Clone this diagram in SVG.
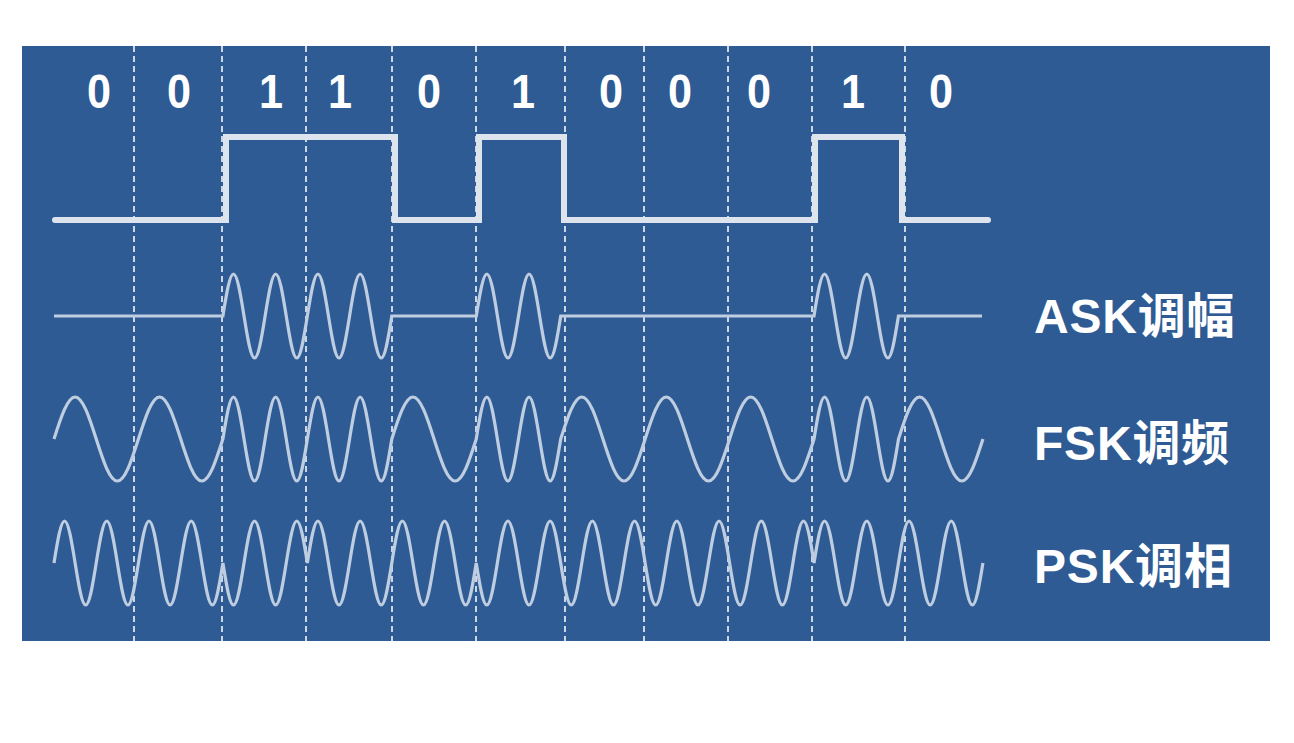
<svg xmlns="http://www.w3.org/2000/svg" width="1294" height="743" viewBox="0 0 1294 743">
<style>
.grid line{stroke:#ffffff;stroke-width:1.5;stroke-dasharray:6,4}
.bit{font-family:"Liberation Sans",Arial,sans-serif;font-weight:bold;font-size:48px;fill:#ffffff;text-anchor:middle}
.lbl{font-family:"Liberation Sans","Noto Sans CJK SC",sans-serif;font-weight:bold;font-size:48px;letter-spacing:0.8px;fill:#ffffff}
.wave{fill:none;stroke:#bfcde1;stroke-width:3.2;stroke-linejoin:miter}
.digital{fill:none;stroke:#dde4ee;stroke-width:6;stroke-linecap:round;stroke-linejoin:miter}
</style>
<rect x="0" y="0" width="1294" height="743" fill="#ffffff"/>
<rect id="panel" x="22" y="46" width="1248" height="595" fill="#2e5b94"/>
<g id="grid" class="grid">
<line x1="134" y1="46" x2="134" y2="641"/>
<line x1="222" y1="46" x2="222" y2="641"/>
<line x1="306" y1="46" x2="306" y2="641"/>
<line x1="392" y1="46" x2="392" y2="641"/>
<line x1="476" y1="46" x2="476" y2="641"/>
<line x1="565" y1="46" x2="565" y2="641"/>
<line x1="644" y1="46" x2="644" y2="641"/>
<line x1="728" y1="46" x2="728" y2="641"/>
<line x1="812" y1="46" x2="812" y2="641"/>
<line x1="905" y1="46" x2="905" y2="641"/>
</g>
<g id="bits">
<text class="bit" x="99" y="108" transform="translate(99 0) scale(0.9 1) translate(-99 0)">0</text>
<text class="bit" x="179" y="108" transform="translate(179 0) scale(0.9 1) translate(-179 0)">0</text>
<text class="bit" x="271" y="108" transform="translate(271 0) scale(0.9 1) translate(-271 0)">1</text>
<text class="bit" x="340" y="108" transform="translate(340 0) scale(0.9 1) translate(-340 0)">1</text>
<text class="bit" x="429" y="108" transform="translate(429 0) scale(0.9 1) translate(-429 0)">0</text>
<text class="bit" x="523" y="108" transform="translate(523 0) scale(0.9 1) translate(-523 0)">1</text>
<text class="bit" x="611" y="108" transform="translate(611 0) scale(0.9 1) translate(-611 0)">0</text>
<text class="bit" x="680" y="108" transform="translate(680 0) scale(0.9 1) translate(-680 0)">0</text>
<text class="bit" x="759" y="108" transform="translate(759 0) scale(0.9 1) translate(-759 0)">0</text>
<text class="bit" x="853" y="108" transform="translate(853 0) scale(0.9 1) translate(-853 0)">1</text>
<text class="bit" x="941" y="108" transform="translate(941 0) scale(0.9 1) translate(-941 0)">0</text>
</g>
<g id="digital-signal">
<path class="digital" d="M55,220 H226 V137 H395 V220 H479 V137 H564 V220 H815 V137 H902 V220 H988"/>
</g>
<g id="ask">
<path class="wave" d="M54,316 H222.9 c3.442,-21.52 6.736,-42 10.556,-42 s7.114,20.48 10.556,42 6.736,42 10.556,42 7.114,-20.48 10.556,-42 s6.736,-42 10.556,-42 7.114,20.48 10.556,42 6.736,42 10.556,42 7.114,-20.48 10.556,-42 s6.736,-42 10.556,-42 7.114,20.48 10.556,42 6.736,42 10.556,42 7.114,-20.48 10.556,-42 s6.736,-42 10.556,-42 7.114,20.48 10.556,42 6.736,42 10.556,42 7.114,-20.48 10.556,-42 H476.3 c3.442,-21.52 6.736,-42 10.556,-42 s7.114,20.48 10.556,42 6.736,42 10.556,42 7.114,-20.48 10.556,-42 s6.736,-42 10.556,-42 7.114,20.48 10.556,42 6.736,42 10.556,42 7.114,-20.48 10.556,-42 H814 c3.442,-21.52 6.736,-42 10.556,-42 s7.114,20.48 10.556,42 6.736,42 10.556,42 7.114,-20.48 10.556,-42 s6.736,-42 10.556,-42 7.114,20.48 10.556,42 6.736,42 10.556,42 7.114,-20.48 10.556,-42 H982"/>
</g>
<g id="fsk">
<path class="wave" d="M54,439 c6.885,-21.52 13.472,-42 21.113,-42 s14.228,20.48 21.113,42 13.472,42 21.113,42 14.228,-20.48 21.113,-42 s13.472,-42 21.113,-42 14.228,20.48 21.113,42 13.472,42 21.113,42 14.228,-20.48 21.113,-42 c3.442,-21.52 6.736,-42 10.556,-42 s7.114,20.48 10.556,42 6.736,42 10.556,42 7.114,-20.48 10.556,-42 s6.736,-42 10.556,-42 7.114,20.48 10.556,42 6.736,42 10.556,42 7.114,-20.48 10.556,-42 s6.736,-42 10.556,-42 7.114,20.48 10.556,42 6.736,42 10.556,42 7.114,-20.48 10.556,-42 s6.736,-42 10.556,-42 7.114,20.48 10.556,42 6.736,42 10.556,42 7.114,-20.48 10.556,-42 c6.885,-21.52 13.472,-42 21.113,-42 s14.228,20.48 21.113,42 13.472,42 21.113,42 14.228,-20.48 21.113,-42 c3.442,-21.52 6.736,-42 10.556,-42 s7.114,20.48 10.556,42 6.736,42 10.556,42 7.114,-20.48 10.556,-42 s6.736,-42 10.556,-42 7.114,20.48 10.556,42 6.736,42 10.556,42 7.114,-20.48 10.556,-42 c6.885,-21.52 13.472,-42 21.113,-42 s14.228,20.48 21.113,42 13.472,42 21.113,42 14.228,-20.48 21.113,-42 s13.472,-42 21.113,-42 14.228,20.48 21.113,42 13.472,42 21.113,42 14.228,-20.48 21.113,-42 s13.472,-42 21.113,-42 14.228,20.48 21.113,42 13.472,42 21.113,42 14.228,-20.48 21.113,-42 c3.442,-21.52 6.736,-42 10.556,-42 s7.114,20.48 10.556,42 6.736,42 10.556,42 7.114,-20.48 10.556,-42 s6.736,-42 10.556,-42 7.114,20.48 10.556,42 6.736,42 10.556,42 7.114,-20.48 10.556,-42 c6.885,-21.52 13.472,-42 21.113,-42 s14.228,20.48 21.113,42 13.472,42 21.113,42 14.228,-20.48 21.113,-42"/>
</g>
<g id="psk">
<path class="wave" d="M54,563 c3.442,-21.52 6.736,-42 10.556,-42 s7.114,20.48 10.556,42 6.736,42 10.556,42 7.114,-20.48 10.556,-42 s6.736,-42 10.556,-42 7.114,20.48 10.556,42 6.736,42 10.556,42 7.114,-20.48 10.556,-42 s6.736,-42 10.556,-42 7.114,20.48 10.556,42 6.736,42 10.556,42 7.114,-20.48 10.556,-42 s6.736,-42 10.556,-42 7.114,20.48 10.556,42 6.736,42 10.556,42 7.114,-20.48 10.556,-42 c3.442,21.52 6.736,42 10.556,42 s7.114,-20.48 10.556,-42 6.736,-42 10.556,-42 7.114,20.48 10.556,42 s6.736,42 10.556,42 7.114,-20.48 10.556,-42 6.736,-42 10.556,-42 7.114,20.48 10.556,42 c3.442,-21.52 6.736,-42 10.556,-42 s7.114,20.48 10.556,42 6.736,42 10.556,42 7.114,-20.48 10.556,-42 s6.736,-42 10.556,-42 7.114,20.48 10.556,42 6.736,42 10.556,42 7.114,-20.48 10.556,-42 s6.736,-42 10.556,-42 7.114,20.48 10.556,42 6.736,42 10.556,42 7.114,-20.48 10.556,-42 s6.736,-42 10.556,-42 7.114,20.48 10.556,42 6.736,42 10.556,42 7.114,-20.48 10.556,-42 c3.442,21.52 6.736,42 10.556,42 s7.114,-20.48 10.556,-42 6.736,-42 10.556,-42 7.114,20.48 10.556,42 s6.736,42 10.556,42 7.114,-20.48 10.556,-42 6.736,-42 10.556,-42 7.114,20.48 10.556,42 s6.736,42 10.556,42 7.114,-20.48 10.556,-42 6.736,-42 10.556,-42 7.114,20.48 10.556,42 s6.736,42 10.556,42 7.114,-20.48 10.556,-42 6.736,-42 10.556,-42 7.114,20.48 10.556,42 s6.736,42 10.556,42 7.114,-20.48 10.556,-42 6.736,-42 10.556,-42 7.114,20.48 10.556,42 s6.736,42 10.556,42 7.114,-20.48 10.556,-42 6.736,-42 10.556,-42 7.114,20.48 10.556,42 s6.736,42 10.556,42 7.114,-20.48 10.556,-42 6.736,-42 10.556,-42 7.114,20.48 10.556,42 s6.736,42 10.556,42 7.114,-20.48 10.556,-42 6.736,-42 10.556,-42 7.114,20.48 10.556,42 c3.442,-21.52 6.736,-42 10.556,-42 s7.114,20.48 10.556,42 6.736,42 10.556,42 7.114,-20.48 10.556,-42 s6.736,-42 10.556,-42 7.114,20.48 10.556,42 6.736,42 10.556,42 7.114,-20.48 10.556,-42 s6.736,-42 10.556,-42 7.114,20.48 10.556,42 6.736,42 10.556,42 7.114,-20.48 10.556,-42 s6.736,-42 10.556,-42 7.114,20.48 10.556,42 6.736,42 10.556,42 7.114,-20.48 10.556,-42"/>
</g>
<g id="labels">
<text class="lbl" x="1034" y="333">ASK调幅</text>
<text class="lbl" x="1034" y="460">FSK调频</text>
<text class="lbl" x="1034" y="583">PSK调相</text>
</g>
</svg>
